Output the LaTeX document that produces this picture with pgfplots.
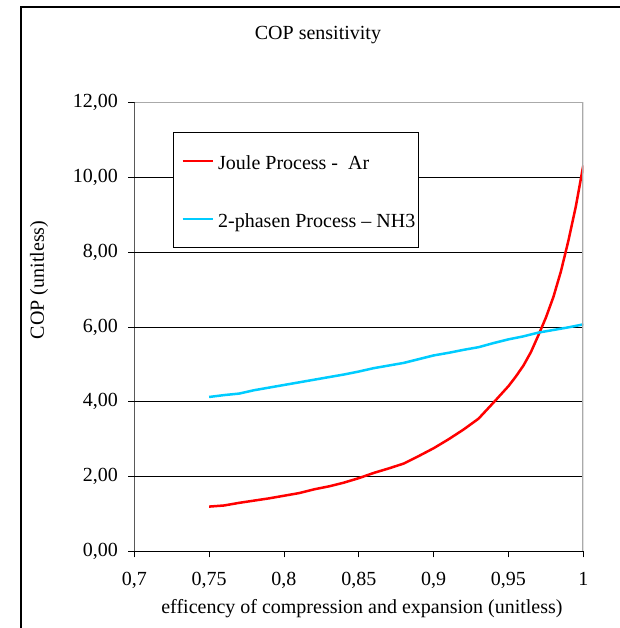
\documentclass[border=0pt]{standalone}
\usepackage{fontspec}
\setmainfont{Liberation Serif}
\usepackage{pgfplots}
\pgfplotsset{compat=1.18}
\definecolor{jred}{RGB}{255,0,0}
\definecolor{nhblue}{RGB}{0,204,255}
\definecolor{bordergray}{RGB}{170,170,170}
\newcommand{\fs}{\fontsize{20pt}{24pt}\selectfont}
\begin{document}
\begin{tikzpicture}
\useasboundingbox (0pt,0pt) rectangle (619pt,628pt);
\draw[line width=1.6pt] (21pt,-2pt) -- (21pt,621pt) -- (622pt,621pt);
\begin{axis}[
  at={(134.3pt,76.5pt)}, anchor=south west,
  scale only axis, width=449pt, height=449pt,
  xmin=0.7, xmax=1, ymin=0, ymax=12,
  xtick={0.7,0.75,0.8,0.85,0.9,0.95,1},
  ytick={0,2,4,6,8,10,12},
  axis line style={draw=none},
  tick align=outside, xtick pos=bottom, ytick pos=left,
  major tick length=6pt,
  tick style={black, line width=0.8pt},
  ymajorgrids, grid style={black, line width=0.9pt},
  /pgf/number format/assume math mode=true,
  tick label style={font=\fs},
  yticklabel style={xshift=-7pt, /pgf/number format/.cd, fixed, fixed zerofill, precision=2, use comma},
  xticklabel style={yshift=-11pt, /pgf/number format/.cd, fixed, precision=2, use comma},
  title={COP sensitivity},
  title style={font=\fs, at={(0.409,1.137)}, anchor=center},
  xlabel={efficency of compression and expansion (unitless)},
  xlabel style={font=\fs, at={(0.507,-0.128)}, anchor=center},
  ylabel={COP (unitless)},
  ylabel style={font=\fs, at={(-0.212,0.605)}, anchor=center},
  legend cell align=left,
  legend style={at={(0.0855,0.9336)}, anchor=north west, draw=black, line width=0.8pt, fill=white,
    inner xsep=3.3pt, inner ysep=15.5pt, row sep=32pt, column sep=4.3pt,
    nodes={inner sep=0pt, text height=21pt, text depth=5pt, font=\fs}},
  legend image code/.code={\path (-5pt,0pt); \draw[#1] (0pt,0pt) -- (30pt,0pt);},
]
\addplot[jred, line width=2.5pt, line join=round] coordinates {
(0.75,1.20) (0.76,1.23) (0.77,1.30) (0.78,1.36) (0.79,1.42) (0.80,1.49)
(0.81,1.56) (0.82,1.66) (0.83,1.74) (0.84,1.84) (0.85,1.96) (0.86,2.10)
(0.87,2.22) (0.88,2.35) (0.89,2.55) (0.90,2.76) (0.91,3.00) (0.92,3.26)
(0.93,3.55) (0.94,3.98) (0.95,4.42) (0.955,4.68) (0.96,4.97) (0.965,5.33)
(0.97,5.78) (0.975,6.25) (0.98,6.80) (0.985,7.48) (0.99,8.30) (0.995,9.22)
(1.00,10.32)};
\addlegendentry{Joule Process -\ \ Ar}
\addplot[nhblue, line width=2.5pt, line join=round] coordinates {
(0.75,4.13) (0.76,4.18) (0.77,4.22) (0.78,4.31) (0.79,4.38) (0.80,4.45)
(0.81,4.52) (0.82,4.59) (0.83,4.66) (0.84,4.73) (0.85,4.81) (0.86,4.90)
(0.87,4.97) (0.88,5.04) (0.89,5.14) (0.90,5.24) (0.91,5.31) (0.92,5.39)
(0.93,5.46) (0.94,5.57) (0.95,5.67) (0.96,5.75) (0.97,5.85) (0.98,5.92)
(0.99,5.99) (1.00,6.07)};
\addlegendentry{2-phasen Process – NH3}
\draw[bordergray, line width=1.8pt] (rel axis cs:0,1) -- (rel axis cs:1,1) -- (rel axis cs:1,0);
\draw[black, line width=1.2pt] (rel axis cs:0,1) -- (rel axis cs:0,0) -- (rel axis cs:1,0);
\end{axis}
\end{tikzpicture}
\end{document}
